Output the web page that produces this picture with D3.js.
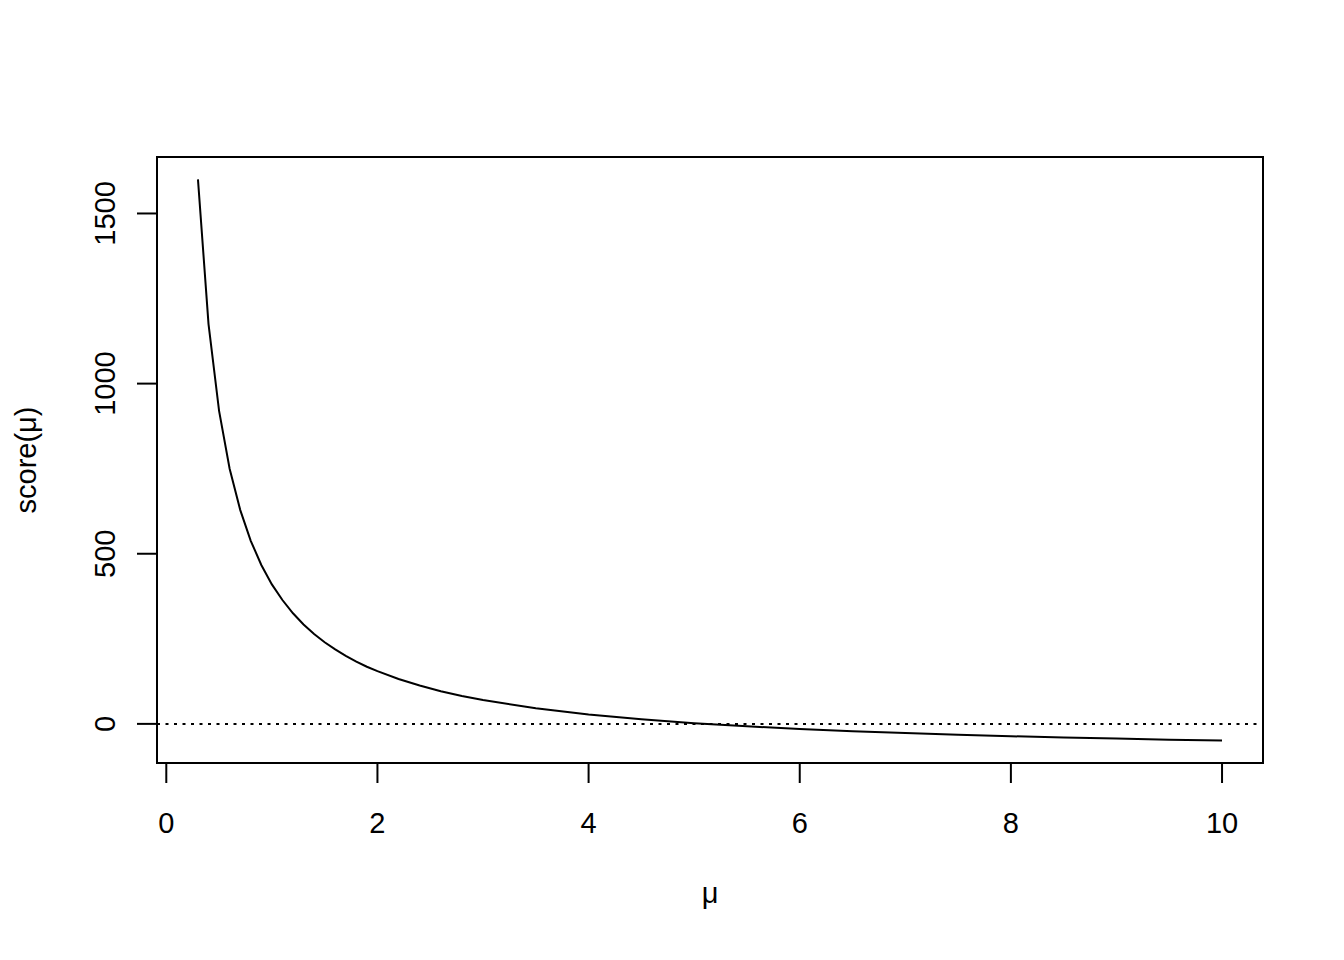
<!DOCTYPE html>
<html lang="en">
<head>
<meta charset="UTF-8">
<title>score</title>
<style>
  body { margin: 0; background: white; }
  svg text { font-family: "Liberation Sans", Arial, sans-serif; fill: black; }
</style>
</head>
<body>
<script src="https://d3js.org/d3.v7.min.js"></script>
<script>
// values
var mu = [0.3, 0.4, 0.5, 0.6, 0.7, 0.8, 0.9, 1.0, 1.1, 1.2, 1.3, 1.4, 1.5, 1.6, 1.7, 1.8, 1.9, 2.0,
          2.2, 2.4, 2.6, 2.8, 3.0, 3.5, 4.0, 4.5, 5.0, 5.5, 6.0, 6.5, 7.0, 7.5, 8.0, 8.5, 9.0, 9.5, 10];
var score = [1600, 1175, 920, 750, 629, 538, 467, 410, 364, 325, 292, 264, 240, 219, 200, 183, 168, 155,
             132, 113, 96, 82, 70, 46, 27.5, 13.3, 2, -7.3, -15, -21.5, -27.1, -32, -36.3, -40, -43.3, -46.3, -49];
var xTicks = [0, 2, 4, 6, 8, 10];
var yTicks = [0, 500, 1000, 1500];

var W = 1344, H = 960;
var mLeft = 157, mRight = 1263, mTop = 157, mBottom = 763;

var svg = d3.select("body").append("svg")
    .attr("width", W)
    .attr("height", H);

// R style 4% padding on the data range
var xr = d3.extent(mu), yr = d3.extent(score);
var xp = (xr[1] - xr[0]) * 0.04, yp = (yr[1] - yr[0]) * 0.04;

var x = d3.scaleLinear().domain([xr[0] - xp, xr[1] + xp]).range([mLeft, mRight]);
var y = d3.scaleLinear().domain([yr[0] - yp, yr[1] + yp]).range([mBottom, mTop]);

var lw = 2;
var fs = "29px";

// zero line, dotted
svg.append("line")
    .attr("x1", mLeft).attr("x2", mRight)
    .attr("y1", y(0)).attr("y2", y(0))
    .style("stroke", "black")
    .style("stroke-width", lw)
    .style("stroke-dasharray", "3,5.5");

var line = d3.line()
    .x(function(d, i) { return x(mu[i]); })
    .y(function(d) { return y(d); });

svg.append("path")
    .datum(score)
    .attr("d", line)
    .style("fill", "none")
    .style("stroke", "black")
    .style("stroke-width", lw);

svg.append("rect")
    .attr("x", mLeft).attr("y", mTop)
    .attr("width", mRight - mLeft).attr("height", mBottom - mTop)
    .style("fill", "none")
    .style("stroke", "black")
    .style("stroke-width", lw);

// x axis
var xa = svg.append("g").attr("transform", "translate(0," + mBottom + ")");
xa.append("line")
    .attr("x1", x(0)).attr("x2", x(10))
    .style("stroke", "black").style("stroke-width", lw);
xa.selectAll(".xt").data(xTicks).enter().append("line")
    .attr("x1", function(d) { return x(d); })
    .attr("x2", function(d) { return x(d); })
    .attr("y1", 0).attr("y2", 20)
    .style("stroke", "black").style("stroke-width", lw);
xa.selectAll(".xl").data(xTicks).enter().append("text")
    .attr("x", function(d) { return x(d); })
    .attr("y", 70)
    .attr("text-anchor", "middle")
    .style("font-size", fs)
    .text(function(d) { return d; });

// y axis
var ya = svg.append("g").attr("transform", "translate(" + mLeft + ",0)");
ya.append("line")
    .attr("y1", y(0)).attr("y2", y(1500))
    .style("stroke", "black").style("stroke-width", lw);
ya.selectAll(".yt").data(yTicks).enter().append("line")
    .attr("x1", -20).attr("x2", 0)
    .attr("y1", function(d) { return y(d); })
    .attr("y2", function(d) { return y(d); })
    .style("stroke", "black").style("stroke-width", lw);
ya.selectAll(".yl").data(yTicks).enter().append("text")
    .attr("transform", function(d) { return "translate(-42," + y(d) + ") rotate(-90)"; })
    .attr("text-anchor", "middle")
    .style("font-size", fs)
    .text(function(d) { return d; });

// axis titles
svg.append("text")
    .attr("x", (mLeft + mRight) / 2)
    .attr("y", 903)
    .attr("text-anchor", "middle")
    .style("font-size", fs)
    .text("μ");

svg.append("text")
    .attr("transform", "translate(36," + (mTop + mBottom) / 2 + ") rotate(-90)")
    .attr("text-anchor", "middle")
    .style("font-size", fs)
    .text("score(μ)");
</script>
</body>
</html>
